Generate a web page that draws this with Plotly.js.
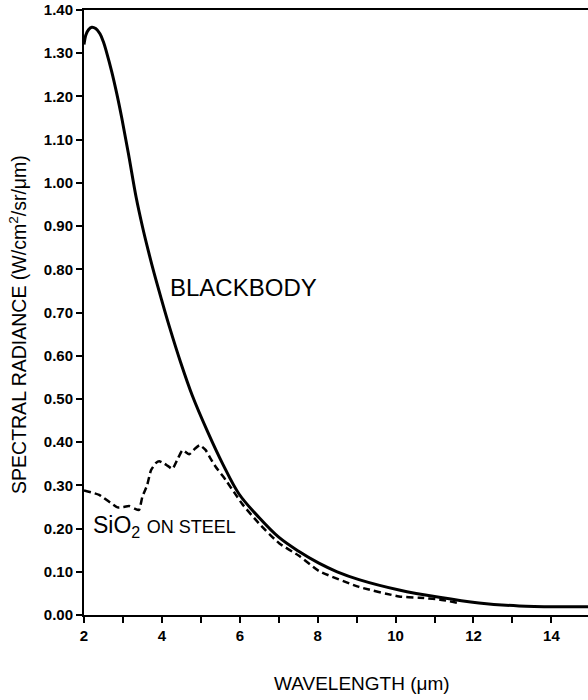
<!DOCTYPE html>
<html>
<head>
<meta charset="utf-8">
<script src="https://cdn.plot.ly/plotly-3.0.1.min.js"></script>
<style>html,body{margin:0;padding:0;background:#fff;}#chart{width:588px;height:700px;}</style>
</head>
<body>
<div id="chart"></div>
<script>
// Blackbody curve (wavelength in µm, radiance W/cm²/sr/µm)
const bbWavelength = [2.0, 2.05, 2.12, 2.2, 2.3, 2.41, 2.5, 2.58, 2.71, 2.84, 2.97, 3.14, 3.34, 3.5, 3.65, 3.8, 3.99, 4.2, 4.48, 4.78, 5.17, 5.57, 5.98, 6.5, 7.0, 7.5, 8.03, 8.5, 9.06, 10.09, 11.12, 12.14, 13.17, 14.2, 14.94];
const bbRadiance   = [1.320, 1.343, 1.355, 1.360, 1.357, 1.345, 1.326, 1.302, 1.258, 1.207, 1.150, 1.068, 0.966, 0.899, 0.843, 0.791, 0.730, 0.665, 0.585, 0.508, 0.425, 0.348, 0.280, 0.225, 0.180, 0.148, 0.120, 0.100, 0.082, 0.058, 0.041, 0.028, 0.021, 0.019, 0.019];

// SiO2 on steel
const sioWavelength = [2.0, 2.39, 2.86, 3.0, 3.16, 3.30, 3.41, 3.50, 3.62, 3.72, 3.85, 3.93, 4.05, 4.15, 4.27, 4.40, 4.53, 4.70, 4.85, 4.97, 5.12, 5.25, 5.38, 5.64, 5.90, 6.07, 6.49, 7.01, 7.52, 8.03, 9.06, 10.09, 10.6, 11.12, 11.6];
const sioRadiance   = [0.288, 0.278, 0.249, 0.250, 0.252, 0.246, 0.243, 0.274, 0.300, 0.335, 0.352, 0.356, 0.351, 0.345, 0.338, 0.360, 0.381, 0.372, 0.385, 0.393, 0.382, 0.362, 0.343, 0.312, 0.278, 0.256, 0.212, 0.166, 0.137, 0.102, 0.065, 0.043, 0.040, 0.036, 0.028];

const xTickVals = [2, 4, 6, 8, 10, 12, 14];
const xTickText = ['2', '4', '6', '8', '10', '12', '14'];

const FONT = 'Liberation Sans, Arial, Helvetica, sans-serif';

const traces = [
  {x: bbWavelength, y: bbRadiance, type: 'scatter', mode: 'lines', name: 'BLACKBODY',
   line: {color: '#000', width: 3, shape: 'spline', smoothing: 1}},
  {x: sioWavelength, y: sioRadiance, type: 'scatter', mode: 'lines', name: 'SiO2 ON STEEL',
   line: {color: '#000', width: 2.5, dash: '7px,4px', shape: 'spline', smoothing: 0.5}}
];

const layout = {
  width: 588, height: 700,
  margin: {l: 84, r: 0, t: 10, b: 85},
  paper_bgcolor: '#fff', plot_bgcolor: '#fff',
  showlegend: false,
  font: {family: FONT, color: '#000'},
  xaxis: {
    range: [2, 14.94], showgrid: false, zeroline: false,
    showline: true, linecolor: '#000', linewidth: 2, mirror: true,
    ticks: 'outside', ticklen: 6, tickwidth: 2, tickcolor: '#000',
    tickvals: xTickVals, ticktext: xTickText,
    tickfont: {family: FONT, size: 15, color: '#000', weight: 'bold'},
    minor: {dtick: 1, ticks: 'outside', ticklen: 6, tickwidth: 2, tickcolor: '#000', showgrid: false}
  },
  yaxis: {
    range: [0, 1.4], showgrid: false, zeroline: false,
    showline: true, linecolor: '#000', linewidth: 2,
    ticks: 'outside', ticklen: 6, tickwidth: 2, tickcolor: '#000',
    dtick: 0.1, tick0: 0, tickformat: '.2f',
    tickfont: {family: FONT, size: 15, color: '#000', weight: 'bold'}
  },
  annotations: [
    {text: 'BLACKBODY', x: 4.15, y: 0.757, xref: 'x', yref: 'y', xanchor: 'left', yanchor: 'middle',
     showarrow: false, font: {family: FONT, size: 24, color: '#000'}},
    {text: 'SiO<sub>2</sub> <span style="font-size:18px">ON STEEL</span>', x: 2.17, y: 0.205, xref: 'x', yref: 'y',
     xanchor: 'left', yanchor: 'middle', showarrow: false, font: {family: FONT, size: 23, color: '#000'}},
    {text: 'WAVELENGTH (μm)', x: 9.13, y: -0.114, xref: 'x', yref: 'paper', xanchor: 'center', yanchor: 'middle',
     showarrow: false, font: {family: FONT, size: 19, color: '#000'}},
    {text: 'SPECTRAL RADIANCE (W/cm<sup>2</sup>/sr/μm)', x: -0.131, y: 0.481, xref: 'paper', yref: 'paper',
     xanchor: 'center', yanchor: 'middle', textangle: -90, showarrow: false,
     font: {family: FONT, size: 19.5, color: '#000'}}
  ]
};

Plotly.newPlot('chart', traces, layout, {staticPlot: true, displayModeBar: false});
</script>
</body>
</html>
